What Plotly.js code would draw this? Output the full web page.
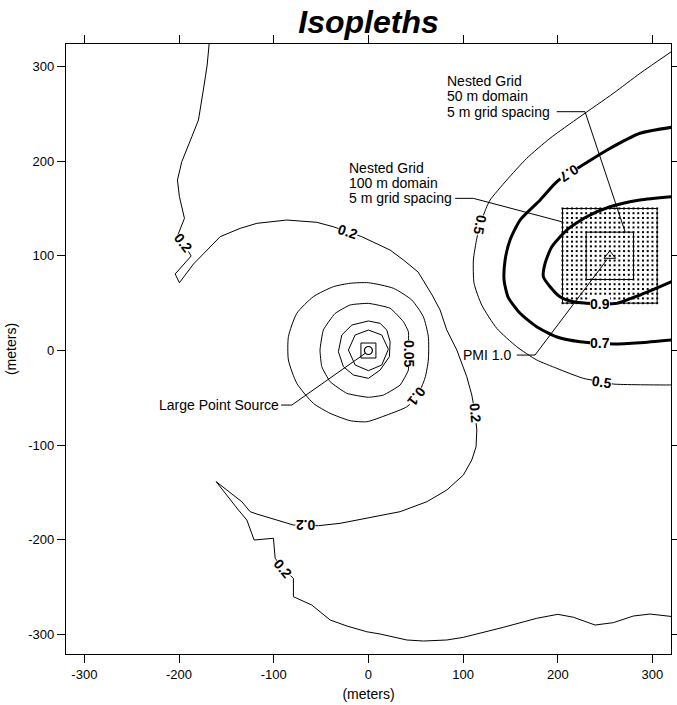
<!DOCTYPE html>
<html>
<head>
<meta charset="utf-8">
<script src="https://cdn.plot.ly/plotly-3.0.1.min.js"></script>
<style>
  html, body { margin: 0; padding: 0; background: #fff; }
  #plot { width: 677px; height: 705px; }
</style>
</head>
<body>
<div id="plot"></div>
<script>
// Concentration isopleths around a large point source (metres from the source).

const axisTicks = [-300, -200, -100, 0, 100, 200, 300];

// 0.2 isopleth: one long spiral running from the top edge to the right edge
const iso02 = [[-168.2,324],[-170.3,301.5],[-173.5,280.4],[-175.9,264.5],[-179.5,243.4],[-186.5,225.8],
  [-197.1,199.4],[-201.7,180.0],[-199.6,162.4],[-194.3,139.6],[-201.7,120.9],[-195.4,113.2],[-187.2,99.8],
  [-204.1,80.8],[-199.6,71.6],[-184.8,91.3],[-170.6,106.1],[-156.6,120.2],[-135.5,129.0],[-117.8,134.3],
  [-86.2,137.8],[-54.5,135.4],[-37.0,130.7],[-21.1,125.5],[-7.0,120.2],[22.9,106.1],[37.0,95.6],[52.5,82.9],
  [67.3,58.6],[75.7,42.8],[82.8,21.6],[93.4,0.5],[103.9,-27.7],[109.2,-47.0],[112.7,-66.3],[114.5,-84.0],
  [113.7,-101.6],[109.2,-115.6],[100.3,-131.5],[82.8,-147.3],[61.7,-159.7],[33.5,-170.2],[-1.7,-177.2],
  [-29.9,-182.5],[-52.8,-185.0],[-66.8,-185.0],[-79.2,-184.3],[-117.8,-172.7],[-124.9,-170.2],[-133.7,-159.7],
  [-160.8,-138.5],[-137.3,-168.4],[-128.4,-179.0],[-120.7,-200.1],[-100.3,-198.3],[-98.5,-219.4],[-89.8,-230.6],
  [-79.2,-240.6],[-79.2,-260.0],[-59.8,-268.8],[-40.4,-284.6],[-22.8,-290.9],[-1.7,-297.0],[12.4,-299.4],
  [40.6,-305.7],[58.1,-306.8],[82.8,-305.7],[100.3,-302.9],[118.0,-298.6],[142.6,-292.3],[177.8,-282.8],
  [200.0,-278.6],[216.5,-281.7],[239.4,-289.9],[258.7,-287.4],[279.8,-280.4],[297.5,-278.3],[322,-281.1]];

// 0.1 and 0.05 isopleths, closed around the source
const iso01 = [[0,71.6],[26.4,65.7],[45.8,53.3],[58.0,35.7],[63.3,14.6],[63.3,-10.0],[59.8,-29.0],[51.1,-48.8],
  [40.6,-59.4],[19.5,-68.1],[-1.7,-75.2],[-19.3,-74.1],[-40.4,-66.3],[-58.1,-55.8],[-75.6,-34.7],[-84.5,-10.0],
  [-84.5,14.6],[-75.6,39.3],[-58.1,56.9],[-37.0,67.4],[-19.3,71.0],[0,71.6]];
const iso005 = [[0,49.8],[22.9,44.6],[37.0,30.4],[42.2,19.9],[42.2,-3.0],[42.2,-20.6],[33.5,-36.4],[15.8,-47.0],
  [0,-49.4],[-22.8,-45.2],[-40.4,-32.9],[-49.2,-17.1],[-51.1,0.5],[-47.6,21.6],[-35.2,39.1],[-19.3,48.1],[0,49.8]];
// two unlabelled inner rings
const isoRingOuter = [[0,31.2],[12.4,28.7],[19.4,21.6],[22.9,9.3],[22.2,-6.5],[12.4,-20.6],[0,-29.4],
  [-15.8,-25.9],[-26.4,-17.1],[-31.7,-1.3],[-28.1,16.4],[-17.5,26.9],[0,31.2]];
const isoRingInner = [[0,21.6],[14.1,16.4],[21.1,1.3],[14.1,-15.3],[0,-21.3],[-14.0,-15.3],[-21.1,0.5],
  [-14.0,16.4],[0,21.6]];

// high-concentration isopleths on the east side
const iso05 = [[322,317],[286.9,292.7],[258.7,271.6],[223.5,246.9],[191.8,224.1],[167.3,203.0],[146.1,180.0],
  [128.5,158.9],[124.3,150.2],[117.9,132.5],[114.5,118.5],[110.9,95.6],[111.6,71.0],[119.7,48.0],[135.6,23.4],
  [156.7,4.0],[177.8,-10.0],[198.9,-18.8],[227.0,-29.4],[246.5,-32.9],[258.7,-35.4],[315.1,-36.4],[322,-36.4]];
const iso07 = [[322,236],[286.9,229.4],[251.7,211.5],[223.5,194.1],[211.2,187.1],[197.2,176.6],[181.2,158.7],
  [160.2,137.8],[149.6,116.7],[144.4,95.6],[143.3,74.4],[147.5,56.5],[160.2,39.3],[178.1,24.8],[199.3,14.3],
  [223.5,9.3],[244.7,7.6],[258.7,6.9],[286.9,8.2],[322,11.3]];
const iso09 = [[322,162.6],[286.9,158.9],[255.2,151.8],[230.6,141.3],[209.5,127.2],[193.7,109.6],[186.6,92.1],
  [184.8,77.9],[191.9,67.4],[202.4,56.8],[216.5,51.5],[244.7,49.1],[262.3,49.8],[286.9,58.6],[308.0,67.4],[322,73.5]];

// in-line contour labels: text, position, reading angle
const isoLabelText  = ['0.2', '0.2', '0.2', '0.2', '0.2', '0.05', '0.1', '0.5', '0.5', '0.7', '0.7', '0.9'];
const isoLabelX     = [-195.4, -21.1, 112.7, -66.8, -89.8, 42.2, 51.1, 117.9, 246.5, 211.2, 244.7, 244.7];
const isoLabelY     = [113.2, 125.5, -66.3, -185.0, -230.6, -3.0, -48.8, 132.5, -32.9, 187.1, 7.6, 49.1];
const isoLabelAngle = [52, 19, 84, 180, 50, 90, 128, 100, 8, 147, 0, 0];

// nested receptor grids (100 m and 50 m domains, 5 m spacing) centred on the PMI
const outerDomainX = [205, 305];
const outerDomainY = [50, 150];
const innerDomainX = [230, 280];
const innerDomainY = [75, 125];
const gridSpacing = 5;

const sourcePoint = [0, 0];
const pmiPoint = [255, 100];

// callout leaders and their captions
const leader50 = [[198.9,252.2],[228.8,252.2],[271.1,125.4]];
const leader100 = [[91.6,160.7],[110.9,160.7],[204.2,136.0]];
const leaderPMI = [[156.7,-4.8],[176.0,-4.8],[252.0,96.0]];
const leaderSource = [[-92.2,-57.6],[-80.9,-57.6],[-3.5,-3.1]];
const captionText = ['Nested Grid', '50 m domain', '5 m grid spacing',
                     'Nested Grid', '100 m domain', '5 m grid spacing',
                     'PMI 1.0', 'Large Point Source'];
const captionX = [83.4, 83.4, 83.4, -20.1, -20.1, -20.1, 100.3, -94.3];
const captionY = [285.1, 268.7, 252.4, 192.4, 176.6, 160.7, -4.8, -57.6];
const captionAnchor = ['left', 'left', 'left', 'left', 'left', 'left', 'left', 'right'];

const FONT = '"Liberation Sans", Arial, Helvetica, sans-serif';

const xs = pts => pts.map(p => p[0]);
const ys = pts => pts.map(p => p[1]);
function lineTrace(pts, width, smooth) {
  const line = { color: '#000', width: width };
  if (smooth) { line.shape = 'spline'; line.smoothing = smooth; }
  return { type: 'scatter', mode: 'lines', x: xs(pts), y: ys(pts),
           line: line, hoverinfo: 'skip', showlegend: false };
}
function boxPts(bx, by) {
  return [[bx[0], by[0]], [bx[1], by[0]], [bx[1], by[1]], [bx[0], by[1]], [bx[0], by[0]]];
}

// receptor points of the 100 m nested grid
const gridX = [], gridY = [];
for (let gx = outerDomainX[0]; gx <= outerDomainX[1] + 1e-9; gx += gridSpacing) {
  for (let gy = outerDomainY[0]; gy <= outerDomainY[1] + 1e-9; gy += gridSpacing) {
    gridX.push(gx); gridY.push(gy);
  }
}

const traces = [
  { type: 'scatter', mode: 'markers', x: gridX, y: gridY,
    marker: { color: '#000', size: 2, symbol: 'square' }, hoverinfo: 'skip', showlegend: false },
  lineTrace(boxPts(outerDomainX, outerDomainY), 1),
  lineTrace(boxPts(innerDomainX, innerDomainY), 1),
  lineTrace(iso02, 1),
  lineTrace(iso01, 1, 0.6),
  lineTrace(iso005, 1, 0.4),
  lineTrace(isoRingOuter, 1),
  lineTrace(isoRingInner, 1),
  lineTrace(iso05, 1, 0.6),
  lineTrace(iso07, 3, 0.6),
  lineTrace(iso09, 3, 0.6),
  lineTrace(leader50, 1),
  lineTrace(leader100, 1),
  lineTrace(leaderPMI, 1),
  lineTrace(leaderSource, 1),
  { type: 'scatter', mode: 'markers', x: [sourcePoint[0]], y: [sourcePoint[1]],
    marker: { symbol: 'square-open', size: 15, color: '#000', line: { width: 1, color: '#000' } },
    hoverinfo: 'skip', showlegend: false },
  { type: 'scatter', mode: 'markers', x: [sourcePoint[0]], y: [sourcePoint[1]],
    marker: { symbol: 'circle-open', size: 8, color: '#000', line: { width: 1.2, color: '#000' } },
    hoverinfo: 'skip', showlegend: false },
  { type: 'scatter', mode: 'markers', x: [pmiPoint[0]], y: [pmiPoint[1]],
    marker: { symbol: 'triangle-up-open', size: 10, color: '#000', line: { width: 1, color: '#000' } },
    hoverinfo: 'skip', showlegend: false }
];

const annotations = [];
isoLabelText.forEach((t, i) => {
  annotations.push({
    x: isoLabelX[i], y: isoLabelY[i], xref: 'x', yref: 'y',
    text: '<b>' + t + '</b>', showarrow: false, textangle: isoLabelAngle[i],
    font: { family: FONT, size: 14, color: '#000' },
    bgcolor: '#fff', borderpad: 0, borderwidth: 0
  });
});
captionText.forEach((t, i) => {
  annotations.push({
    x: captionX[i], y: captionY[i], xref: 'x', yref: 'y',
    text: t, showarrow: false, xanchor: captionAnchor[i], yanchor: 'middle',
    font: { family: FONT, size: 14, color: '#000' }, borderpad: 0, borderwidth: 0
  });
});

const axisCommon = {
  tickmode: 'array', tickvals: axisTicks, ticktext: axisTicks.map(String),
  ticks: 'outside', ticklen: 8, tickwidth: 1, tickcolor: '#000',
  showline: true, linecolor: '#000', linewidth: 1.2, mirror: 'ticks',
  showgrid: false, zeroline: false,
  tickfont: { family: FONT, size: 13, color: '#000' }
};

const layout = {
  width: 677, height: 705,
  margin: { l: 66, r: 6, t: 44, b: 51 },
  paper_bgcolor: '#fff', plot_bgcolor: '#fff',
  title: { text: '<b><i>Isopleths</i></b>', font: { family: FONT, size: 32, color: '#000' },
           x: 0.5, xref: 'paper', xanchor: 'center', y: 0.969, yref: 'container', yanchor: 'middle' },
  xaxis: Object.assign({}, axisCommon, {
    range: [-319.4, 319.6],
    title: { text: '(meters)', font: { family: FONT, size: 14, color: '#000' }, standoff: 8 }
  }),
  yaxis: Object.assign({}, axisCommon, {
    range: [-320.5, 323.7],
    title: { text: '(meters)', font: { family: FONT, size: 14, color: '#000' }, standoff: 8 }
  }),
  annotations: annotations,
  showlegend: false
};

Plotly.newPlot('plot', traces, layout, { displayModeBar: false, staticPlot: true });
</script>
</body>
</html>
